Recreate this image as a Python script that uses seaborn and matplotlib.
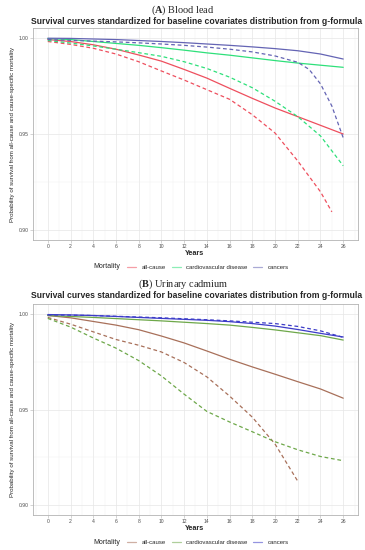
import matplotlib
matplotlib.use("Agg")
import matplotlib.pyplot as plt
import pandas as pd
import seaborn as sns
from matplotlib.lines import Line2D
from matplotlib.ticker import MultipleLocator, FixedLocator

# Years on the x axis
YEARS = [0, 2, 4, 6, 8, 10, 12, 14, 16, 18, 20, 22, 24, 26]
YEARS_A_ALL_DASHED = [0, 2, 4, 6, 8, 10, 12, 14, 16, 18, 20, 22, 24, 25]
YEARS_A_CAN_DASHED = [0, 2, 4, 6, 8, 10, 12, 14, 16, 18, 20, 22, 23, 24, 25, 26]
YEARS_B_ALL_DASHED = [0, 2, 4, 6, 8, 10, 12, 14, 16, 18, 20, 22]

CAUSES = ["all-cause", "cardiovascular disease", "cancers"]

# Panel A: blood lead
A_ALL_SOLID = [0.9990, 0.9980, 0.9963, 0.9940, 0.9910, 0.9878, 0.9835, 0.9790, 0.9737, 0.9685, 0.9635, 0.9590, 0.9545, 0.9500]
A_CVD_SOLID = [0.9995, 0.9990, 0.9980, 0.9970, 0.9960, 0.9948, 0.9935, 0.9921, 0.9909, 0.9895, 0.9881, 0.9868, 0.9857, 0.9846]
A_CAN_SOLID = [0.9997, 0.9996, 0.9993, 0.9990, 0.9985, 0.9980, 0.9974, 0.9967, 0.9960, 0.9952, 0.9943, 0.9932, 0.9915, 0.9889]
A_ALL_DASHED = [0.9980, 0.9965, 0.9945, 0.9915, 0.9875, 0.9827, 0.9780, 0.9730, 0.9680, 0.9600, 0.9505, 0.9360, 0.9200, 0.9096]
A_CVD_DASHED = [0.9985, 0.9972, 0.9957, 0.9940, 0.9922, 0.9903, 0.9875, 0.9840, 0.9795, 0.9740, 0.9670, 0.9590, 0.9490, 0.9335]
A_CAN_DASHED = [0.9990, 0.9986, 0.9982, 0.9978, 0.9973, 0.9967, 0.9960, 0.9951, 0.9940, 0.9926, 0.9905, 0.9872, 0.9835, 0.9760, 0.9645, 0.9480]

# Panel B: urinary cadmium
B_ALL_SOLID = [0.9990, 0.9978, 0.9959, 0.9940, 0.9916, 0.9883, 0.9847, 0.9805, 0.9762, 0.9722, 0.9684, 0.9645, 0.9607, 0.9559]
B_CVD_SOLID = [0.9990, 0.9985, 0.9980, 0.9974, 0.9968, 0.9962, 0.9955, 0.9948, 0.9940, 0.9928, 0.9915, 0.9900, 0.9885, 0.9862]
B_CAN_SOLID = [0.9995, 0.9993, 0.9990, 0.9985, 0.9980, 0.9975, 0.9970, 0.9965, 0.9958, 0.9948, 0.9935, 0.9917, 0.9897, 0.9878]
B_ALL_DASHED = [0.9980, 0.9945, 0.9905, 0.9865, 0.9835, 0.9800, 0.9745, 0.9670, 0.9570, 0.9460, 0.9320, 0.9126]
B_CVD_DASHED = [0.9975, 0.9930, 0.9873, 0.9820, 0.9755, 0.9675, 0.9580, 0.9490, 0.9435, 0.9384, 0.9332, 0.9290, 0.9255, 0.9233]
B_CAN_DASHED = [0.9993, 0.9992, 0.9990, 0.9986, 0.9982, 0.9978, 0.9973, 0.9968, 0.9962, 0.9955, 0.9948, 0.9933, 0.9910, 0.9876]

COLORS_A = ["#EE4F5E", "#2EE07A", "#6464B4"]
COLORS_B = ["#A8705A", "#6EA84A", "#3C3CC8"]


def long_frame(series):
    rows = []
    for cause, level, years, values in series:
        for yr, val in zip(years, values):
            rows.append({"Years": yr, "Survival": val, "Mortality": cause, "level": level})
    return pd.DataFrame(rows)


df_a = long_frame([
    ("all-cause", "low", YEARS, A_ALL_SOLID),
    ("cardiovascular disease", "low", YEARS, A_CVD_SOLID),
    ("cancers", "low", YEARS, A_CAN_SOLID),
    ("all-cause", "high", YEARS_A_ALL_DASHED, A_ALL_DASHED),
    ("cardiovascular disease", "high", YEARS, A_CVD_DASHED),
    ("cancers", "high", YEARS_A_CAN_DASHED, A_CAN_DASHED),
])
df_b = long_frame([
    ("all-cause", "low", YEARS, B_ALL_SOLID),
    ("cardiovascular disease", "low", YEARS, B_CVD_SOLID),
    ("cancers", "low", YEARS, B_CAN_SOLID),
    ("all-cause", "high", YEARS_B_ALL_DASHED, B_ALL_DASHED),
    ("cardiovascular disease", "high", YEARS, B_CVD_DASHED),
    ("cancers", "high", YEARS, B_CAN_DASHED),
])

sns.set_style("white")
plt.rcParams["font.family"] = ["Liberation Sans", "DejaVu Sans"]
plt.rcParams["mathtext.fontset"] = "custom"
plt.rcParams["mathtext.rm"] = "Liberation Serif"
plt.rcParams["mathtext.bf"] = "Liberation Serif:bold"

W, H = 365, 550
fig = plt.figure(figsize=(W / 100, H / 100), dpi=100)


def px(x, y):
    # pixel position -> figure fraction
    return x / W, 1 - y / H


def draw_panel(df, colors, heading, top, bottom, y_head, y_title, y_xlab, y_leg):
    left, right = 33, 358
    ax = fig.add_axes([left / W, 1 - bottom / H, (right - left) / W, (bottom - top) / H])
    sns.lineplot(data=df, x="Years", y="Survival", hue="Mortality", style="level",
                 hue_order=CAUSES, palette=colors, style_order=["low", "high"],
                 dashes={"low": "", "high": (3, 2.2)}, linewidth=0.9,
                 errorbar=None, legend=False, ax=ax)

    ax.set_xlim(-1.3, 27.3)
    ax.set_ylim(0.895, 1.005)
    ax.xaxis.set_major_locator(MultipleLocator(2))
    ax.xaxis.set_minor_locator(MultipleLocator(1))
    ax.yaxis.set_major_locator(FixedLocator([0.90, 0.95, 1.00]))
    ax.yaxis.set_minor_locator(FixedLocator([0.925, 0.975]))
    ax.yaxis.set_major_formatter(matplotlib.ticker.FormatStrFormatter("%.2f"))
    ax.grid(which="major", color="#E6E6E6", linewidth=0.5)
    ax.grid(which="minor", color="#F0F0F0", linewidth=0.35)
    ax.set_axisbelow(True)
    for sp in ax.spines.values():
        sp.set_color("#B3B3B3")
        sp.set_linewidth(0.6)
    ax.tick_params(which="major", length=2, width=0.4, color="#B3B3B3",
                   labelsize=3.6, labelcolor="#4D4D4D", pad=1.0, bottom=True, left=True)
    ax.tick_params(which="minor", length=0)

    ax.set_xlabel("")
    ax.set_ylabel("Probability of survival from all-cause and cause-specific mortality",
                  fontsize=4.4, labelpad=2.5)

    fig.text(*px(195, y_xlab), "Years", fontsize=5.2, fontweight="bold", ha="center", va="center")
    fig.text(*px(183, y_head), heading, fontsize=7.4, family="Liberation Serif",
             ha="center", va="center")
    fig.text(*px(197, y_title), "Survival curves standardized for baseline covariates distribution from g-formula",
             fontsize=6.2, fontweight="bold", ha="center", va="center")

    # legend below the axes
    fig.text(*px(93, y_leg), "Mortality", fontsize=5.0, ha="left", va="center")
    handles = [Line2D([0], [0], color=c, lw=0.9, alpha=0.55) for c in colors]
    fig.legend(handles, CAUSES, loc="center left", bbox_to_anchor=px(127, y_leg), ncol=3,
               frameon=False, fontsize=4.3, handlelength=1.5, handletextpad=1.0,
               columnspacing=0.9, borderpad=0, borderaxespad=0)
    return ax


draw_panel(df_a, COLORS_A, r"($\mathbf{A}$) Blood lead", 28, 240, 10, 21, 253.5, 267)
draw_panel(df_b, COLORS_B, r"($\mathbf{B}$) Urinary cadmium", 304, 515, 284, 295, 528.5, 542)

fig.savefig("out.png", dpi=100)
